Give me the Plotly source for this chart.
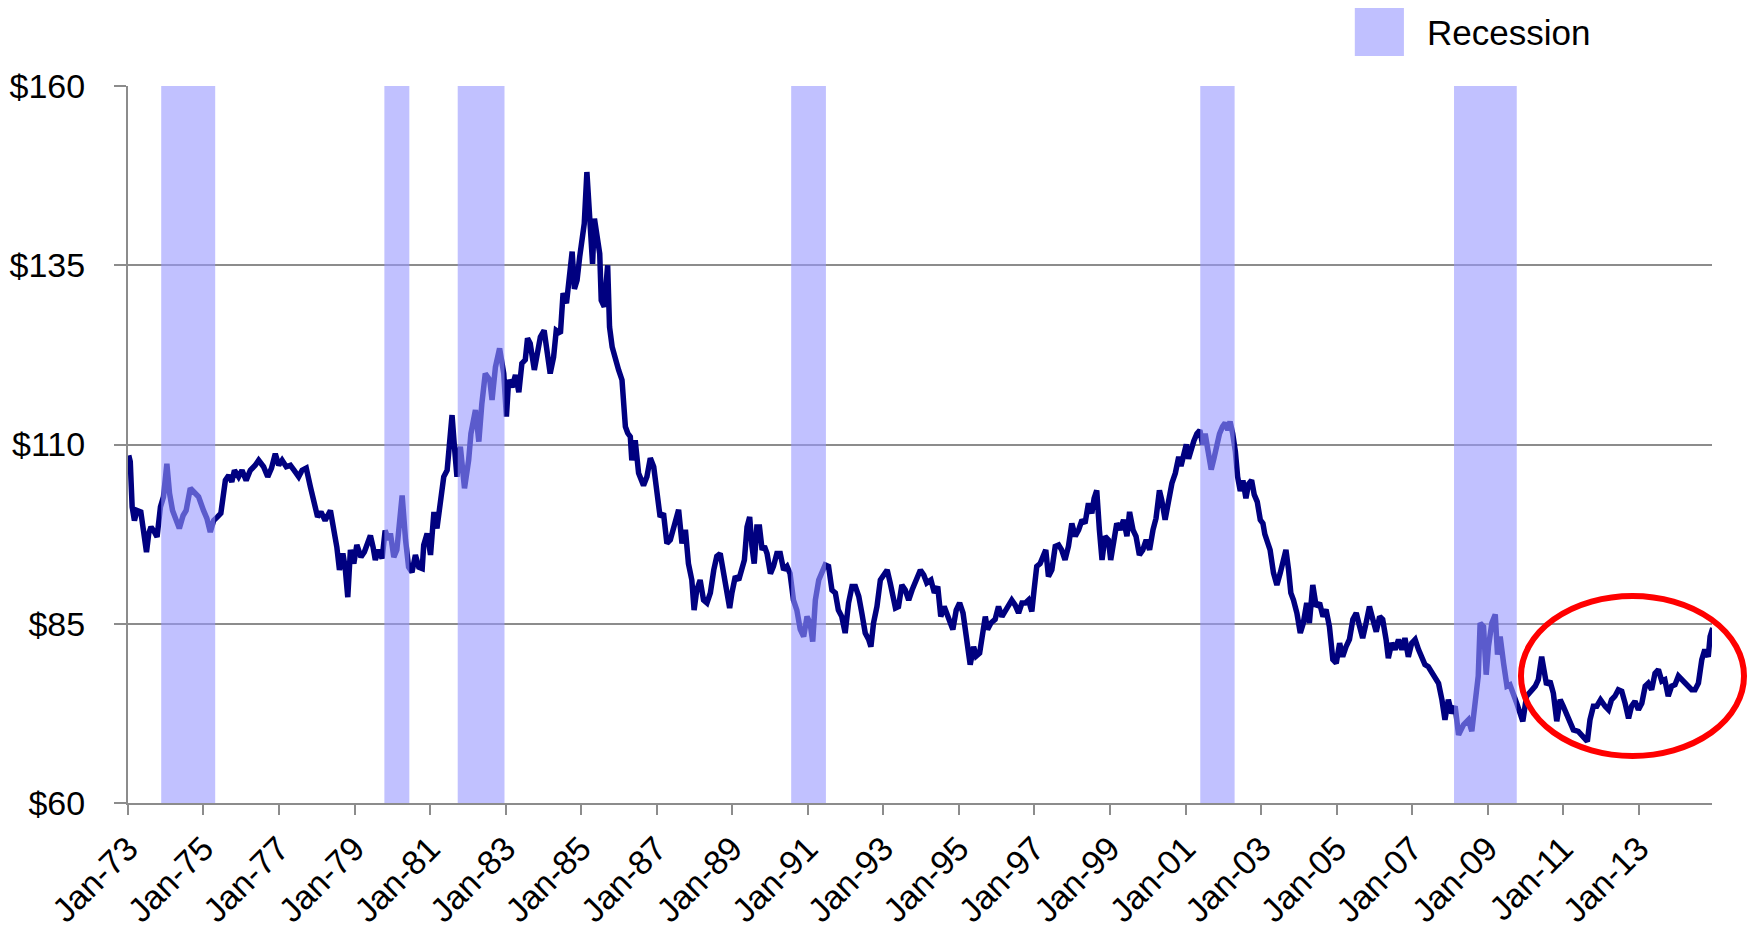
import pandas as pd
import plotly.graph_objects as go

# ---- data (decimal year, index value in $) ----
year_frac = [
    1973.02, 1973.06, 1973.11, 1973.17, 1973.24, 1973.34, 1973.41, 1973.49, 1973.55, 1973.61, 1973.70, 1973.77,
    1973.86, 1973.94, 1974.03, 1974.10, 1974.18, 1974.27, 1974.36, 1974.46, 1974.54, 1974.65, 1974.76, 1974.87,
    1975.00, 1975.09, 1975.18, 1975.27, 1975.37, 1975.46, 1975.58, 1975.67, 1975.75, 1975.82, 1975.93, 1976.02,
    1976.13, 1976.24, 1976.37, 1976.46, 1976.59, 1976.70, 1976.80, 1976.90, 1976.99, 1977.08, 1977.19, 1977.30,
    1977.40, 1977.52, 1977.61, 1977.72, 1977.83, 1977.93, 1978.02, 1978.11, 1978.22, 1978.36, 1978.45, 1978.53,
    1978.60, 1978.69, 1978.75, 1978.82, 1978.89, 1978.98, 1979.06, 1979.17, 1979.26, 1979.35, 1979.42, 1979.49,
    1979.55, 1979.64, 1979.73, 1979.81, 1979.90,
    1979.95, 1980.04, 1980.12, 1980.26, 1980.35, 1980.43, 1980.52, 1980.61, 1980.70, 1980.79, 1980.83, 1980.92,
    1981.01, 1981.10, 1981.18, 1981.27, 1981.36, 1981.45, 1981.52, 1981.58, 1981.64, 1981.71, 1981.80, 1981.91,
    1982.02, 1982.08, 1982.20, 1982.29, 1982.37, 1982.46, 1982.58, 1982.64, 1982.73, 1982.84, 1982.95, 1983.02,
    1983.08, 1983.17, 1983.26, 1983.35, 1983.43, 1983.52, 1983.58, 1983.65, 1983.76, 1983.83, 1983.92, 1984.02,
    1984.09, 1984.18, 1984.27, 1984.34, 1984.45, 1984.52, 1984.61, 1984.67, 1984.76, 1984.82, 1984.89, 1984.96,
    1985.02, 1985.08, 1985.15, 1985.22, 1985.26, 1985.30, 1985.35, 1985.42, 1985.49, 1985.53, 1985.61, 1985.70,
    1985.75, 1985.82, 1985.90, 1985.99, 1986.08, 1986.17, 1986.23,
    1986.30, 1986.34, 1986.43, 1986.52, 1986.65, 1986.74, 1986.83, 1986.92, 1987.01, 1987.09, 1987.18, 1987.27,
    1987.36, 1987.45, 1987.58, 1987.67, 1987.76, 1987.84, 1987.93, 1987.99, 1988.06, 1988.15, 1988.24, 1988.33,
    1988.42, 1988.51, 1988.59, 1988.68, 1988.77, 1988.86, 1988.93, 1988.99, 1989.08, 1989.17, 1989.26, 1989.32,
    1989.39, 1989.46, 1989.52, 1989.58, 1989.65, 1989.72, 1989.79, 1989.85, 1989.92, 1990.01, 1990.09, 1990.18,
    1990.27, 1990.36, 1990.45, 1990.53, 1990.62, 1990.71, 1990.80, 1990.89, 1990.98, 1991.06, 1991.13, 1991.20,
    1991.29, 1991.37, 1991.46, 1991.55, 1991.64, 1991.73, 1991.81, 1991.90, 1991.99, 1992.08, 1992.17, 1992.26,
    1992.35, 1992.43, 1992.52, 1992.61, 1992.67, 1992.74, 1992.83, 1992.92, 1993.01, 1993.10, 1993.18, 1993.27,
    1993.32, 1993.40, 1993.49, 1993.58, 1993.67, 1993.76, 1993.85, 1993.98, 1994.07, 1994.15, 1994.26, 1994.35,
    1994.44, 1994.52, 1994.61, 1994.68, 1994.77, 1994.84, 1994.93, 1995.02, 1995.11, 1995.17, 1995.23, 1995.30,
    1995.39, 1995.46, 1995.55, 1995.64, 1995.70, 1995.76, 1995.85, 1995.96, 1996.05, 1996.14, 1996.23, 1996.31,
    1996.40, 1996.49, 1996.58, 1996.67, 1996.76, 1996.84, 1996.93, 1996.99, 1997.06, 1997.15, 1997.24, 1997.30,
    1997.37, 1997.46, 1997.55, 1997.64, 1997.72, 1997.81, 1997.90, 1997.99, 1998.08, 1998.17, 1998.26, 1998.34,
    1998.43, 1998.52, 1998.58, 1998.65, 1998.72, 1998.79, 1998.87, 1998.96, 1999.02, 1999.09, 1999.18, 1999.27,
    1999.36, 1999.45, 1999.52, 1999.61, 1999.69, 1999.78, 1999.87, 1999.96, 2000.05, 2000.14, 2000.22, 2000.31,
    2000.37, 2000.46, 2000.55, 2000.64, 2000.73, 2000.82,
    2000.88, 2000.95, 2001.02, 2001.08, 2001.15, 2001.22, 2001.30, 2001.38, 2001.45, 2001.52, 2001.60, 2001.68,
    2001.75, 2001.82, 2001.90, 2001.98, 2002.05, 2002.12, 2002.18, 2002.25, 2002.32, 2002.38, 2002.45, 2002.52,
    2002.60, 2002.67, 2002.75, 2002.82, 2002.90, 2002.98, 2003.05, 2003.10,
    2003.15, 2003.24, 2003.33, 2003.42, 2003.51, 2003.59, 2003.66, 2003.73, 2003.79, 2003.86, 2003.95, 2004.04,
    2004.12, 2004.21, 2004.28, 2004.37, 2004.46, 2004.55, 2004.64, 2004.72, 2004.81, 2004.90, 2004.99, 2005.08,
    2005.16, 2005.25, 2005.34, 2005.43, 2005.52, 2005.61, 2005.69, 2005.78, 2005.87, 2005.96, 2006.05, 2006.14,
    2006.22, 2006.31, 2006.37, 2006.46, 2006.55, 2006.64, 2006.73, 2006.81, 2006.90, 2006.99, 2007.08, 2007.17,
    2007.26, 2007.34, 2007.43, 2007.52, 2007.61, 2007.70, 2007.79, 2007.87,
    2007.96, 2008.05, 2008.14, 2008.23, 2008.36, 2008.49, 2008.58, 2008.67, 2008.75, 2008.80, 2008.89, 2008.96,
    2009.02, 2009.11, 2009.20, 2009.26, 2009.33, 2009.42, 2009.51, 2009.59, 2009.68, 2009.77, 2009.86, 2009.93,
    2010.03, 2010.17, 2010.26, 2010.34, 2010.43, 2010.49, 2010.56, 2010.65, 2010.74, 2010.83, 2010.92, 2011.00,
    2011.14, 2011.27, 2011.40, 2011.53, 2011.64, 2011.71, 2011.80, 2011.89, 2011.99, 2012.11, 2012.20, 2012.28,
    2012.37, 2012.46, 2012.55, 2012.64, 2012.73, 2012.81, 2012.90, 2012.99, 2013.08, 2013.17, 2013.25, 2013.34,
    2013.43, 2013.52, 2013.61, 2013.69, 2013.78, 2013.87, 2013.96, 2014.05, 2014.14, 2014.22, 2014.31, 2014.40,
    2014.49, 2014.58, 2014.67, 2014.75, 2014.84, 2014.89, 2014.96,
]

index_value = [
    108.5, 107.6, 101.3, 99.4, 100.8, 100.6, 98.0, 95.0, 97.6, 98.5, 97.8, 97.1,
    101.3, 102.7, 107.3, 103.2, 100.8, 99.7, 98.3, 100.1, 100.8, 103.9, 103.4, 102.7,
    100.8, 99.7, 97.8, 99.4, 99.9, 100.4, 105.0, 105.7, 104.8, 106.4, 105.5, 106.4,
    105.0, 106.4, 107.1, 107.8, 106.9, 105.5, 106.7, 108.7, 107.1, 107.8, 106.9, 107.1,
    106.4, 105.5, 106.4, 106.7, 104.1, 101.8, 99.9, 100.6, 99.4, 100.8, 98.5, 95.7,
    92.5, 94.8, 92.9, 88.7, 95.3, 93.4, 96.0, 94.3, 95.0, 96.2, 97.3, 95.7,
    93.9, 95.3, 94.1, 98.0, 96.7,
    97.6, 94.3, 95.3, 102.9, 96.7, 92.9, 92.2, 94.6, 92.9, 92.7, 96.0, 97.6,
    94.6, 100.6, 98.3, 102.0, 105.5, 106.4, 109.7, 114.1, 109.9, 105.5, 109.7, 103.9,
    107.8, 111.5, 114.8, 110.4, 115.7, 119.9, 119.0, 116.2, 120.8, 123.4, 119.9, 113.9,
    119.0, 118.0, 119.7, 117.3, 121.3, 121.8, 124.8, 124.1, 120.4, 122.7, 125.0, 125.9,
    123.6, 119.9, 122.2, 125.9, 125.5, 131.1, 129.7, 132.4, 136.9, 131.7, 132.9, 136.2,
    139.2, 140.8, 148.0, 140.8, 138.5, 135.2, 141.5, 138.5, 136.6, 130.1, 129.2, 135.0,
    126.4, 123.6, 121.8, 120.4, 119.0, 112.5, 111.6,
    111.1, 107.8, 110.6, 106.0, 104.3, 105.5, 108.1, 106.9, 102.7, 99.9, 100.4, 96.2,
    96.7, 98.5, 100.9, 96.2, 98.1, 93.4, 91.1, 86.9, 89.7, 91.1, 88.3, 87.9,
    89.3, 92.5, 94.4, 94.8, 92.0, 89.3, 87.2, 89.3, 91.6, 91.1, 93.0, 93.9,
    98.5, 99.9, 95.8, 93.4, 98.5, 98.5, 95.3, 95.8, 94.8, 92.0, 93.0, 94.8,
    94.8, 92.5, 93.0, 92.0, 88.3, 86.9, 84.2, 83.2, 86.0, 85.1, 82.5, 88.3,
    91.1, 92.0, 93.2, 93.0, 89.7, 89.3, 86.9, 86.0, 83.7, 87.9, 90.2, 90.2,
    88.8, 86.5, 83.7, 82.8, 81.8, 85.1, 87.4, 91.1, 92.0, 92.5, 90.7, 88.8,
    87.2, 87.4, 90.4, 89.7, 88.3, 89.7, 90.9, 92.5, 91.8, 90.7, 91.1, 89.3,
    90.2, 86.0, 87.4, 86.5, 85.1, 84.2, 86.9, 87.9, 86.5, 84.2, 82.3, 79.3,
    81.8, 80.5, 80.9, 84.2, 86.0, 84.2, 85.1, 85.6, 87.4, 86.0, 86.9, 87.4,
    88.3, 87.6, 86.5, 87.9, 87.9, 88.3, 86.7, 89.7, 93.0, 93.4, 94.8, 95.3,
    91.6, 92.5, 95.8, 96.0, 95.3, 93.9, 95.8, 99.0, 97.2, 98.1, 99.5, 99.0,
    101.8, 100.4, 102.5, 103.6, 98.1, 93.9, 97.2, 96.7, 93.9, 95.8, 99.0, 98.1,
    99.5, 97.2, 100.6, 98.1, 97.2, 94.6, 95.3, 96.7, 95.3, 98.1, 99.7, 103.6,
    102.3, 99.5, 102.3, 104.6, 106.0, 108.3,
    107.0, 108.5, 110.0, 108.0, 109.5, 110.5, 111.5, 112.0, 110.0, 111.5, 109.0, 106.5,
    108.0, 110.0, 111.5, 112.5, 113.0, 112.0, 113.2, 111.5, 109.0, 105.5, 103.5, 105.0,
    102.5, 104.5, 105.0, 103.0, 102.0, 99.5, 99.0, 97.5,
    96.7, 95.3, 92.1, 90.4, 92.1, 93.9, 95.3, 92.5, 89.3, 88.3, 86.5, 83.7,
    85.1, 87.9, 85.1, 90.4, 87.4, 87.9, 86.0, 87.0, 84.6, 80.0, 79.5, 82.3,
    80.4, 81.8, 82.8, 85.6, 86.5, 84.6, 83.0, 85.1, 87.4, 85.6, 83.9, 86.0,
    85.6, 82.8, 80.2, 82.3, 81.4, 82.8, 81.4, 83.0, 80.4, 82.3, 82.8, 81.4,
    80.0, 79.3, 79.0, 78.1, 77.2, 76.7, 74.4, 71.6,
    74.4, 72.5, 73.5, 69.5, 70.9, 71.6, 70.0, 74.4, 77.7, 85.1, 84.6, 77.9,
    81.8, 85.1, 86.3, 80.7, 83.2, 79.5, 76.3, 76.5, 74.9, 73.9, 72.5, 71.4,
    74.9, 75.8, 76.3, 77.2, 80.4, 78.6, 76.5, 77.0, 75.3, 71.4, 74.4, 73.5,
    71.6, 70.2, 70.0, 69.3, 68.6, 71.6, 73.5, 73.5, 74.4, 73.5, 73.0, 74.4,
    74.9, 75.8, 75.6, 73.9, 71.8, 73.5, 74.2, 73.0, 73.9, 76.3, 76.7, 75.8,
    78.1, 78.6, 77.0, 77.2, 74.9, 76.3, 76.5, 77.7, 77.2, 76.7, 76.3, 75.8,
    75.8, 76.7, 80.0, 81.4, 80.4, 83.2, 84.4,
]

recession_start = [1973.88, 1979.79, 1981.73, 1990.56, 2001.39, 2008.11]
recession_end = [1975.31, 1980.45, 1982.97, 1991.48, 2002.30, 2009.77]

y_ticks = [60, 85, 110, 135, 160]
y_tick_labels = ["$60", "$85", "$110", "$135", "$160"]
legend_label = "Recession"


def to_date(y):
    yr = int(y)
    start = pd.Timestamp(yr, 1, 1)
    end = pd.Timestamp(yr + 1, 1, 1)
    return start + (end - start) * (y - yr)


dates = [to_date(v) for v in year_frac]

FONT = "Arial, 'Liberation Sans', sans-serif"
GRID = "#8c8c8c"

fig = go.Figure()
fig.add_trace(go.Scatter(
    x=dates, y=index_value, mode="lines",
    line=dict(color="#000080", width=5.5),
    showlegend=False, hoverinfo="x+y",
))

shapes = []
for s, e in zip(recession_start, recession_end):
    shapes.append(dict(
        type="rect", xref="x", yref="paper",
        x0=to_date(s), x1=to_date(e), y0=0, y1=1,
        fillcolor="rgba(151,151,255,0.6)", line=dict(width=0), layer="above",
    ))

# legend swatch
shapes.append(dict(
    type="rect", xref="paper", yref="paper",
    x0=0.7745, x1=0.8055, y0=1.0418, y1=1.1088,
    fillcolor="#C0C0FF", line=dict(width=0), layer="above",
))
# red highlight ellipse
shapes.append(dict(
    type="circle", xref="paper", yref="paper",
    x0=0.8794, x1=1.0202, y0=0.0656, y1=0.2887,
    line=dict(color="#FF0000", width=6), fillcolor="rgba(0,0,0,0)", layer="above",
))

fig.update_layout(
    width=1752, height=931,
    margin=dict(l=128, r=40, t=86, b=128),
    paper_bgcolor="white", plot_bgcolor="white",
    font=dict(family=FONT, size=34, color="black"),
    shapes=shapes,
    annotations=[dict(
        xref="paper", yref="paper", x=0.8188, y=1.0753,
        xanchor="left", yanchor="middle", text=legend_label, showarrow=False,
        font=dict(family=FONT, size=35, color="black"),
    )],
    showlegend=False,
)

fig.update_xaxes(
    type="date",
    range=[to_date(1973.0), to_date(2014.94)],
    tickformat="%b-%y", dtick="M24", tick0="1973-01-01",
    tickangle=-45, automargin=False,
    showgrid=False, zeroline=False,
    showline=True, linecolor=GRID, linewidth=2,
    ticks="outside", ticklen=10, tickcolor=GRID, tickwidth=2,
    tickfont=dict(family=FONT, size=34, color="black"),
)
fig.update_yaxes(
    range=[60, 160], tickmode="array", tickvals=y_ticks, ticktext=y_tick_labels,
    automargin=False,
    showgrid=True, gridcolor=GRID, gridwidth=1.5, zeroline=False,
    showline=True, linecolor=GRID, linewidth=2,
    ticks="outside", ticklen=12, tickcolor=GRID, tickwidth=2,
    ticklabelstandoff=22,
    tickfont=dict(family=FONT, size=34, color="black"),
)

fig.write_html("out.html", config={"displayModeBar": False},
               post_script="document.body.style.margin='0px';")
